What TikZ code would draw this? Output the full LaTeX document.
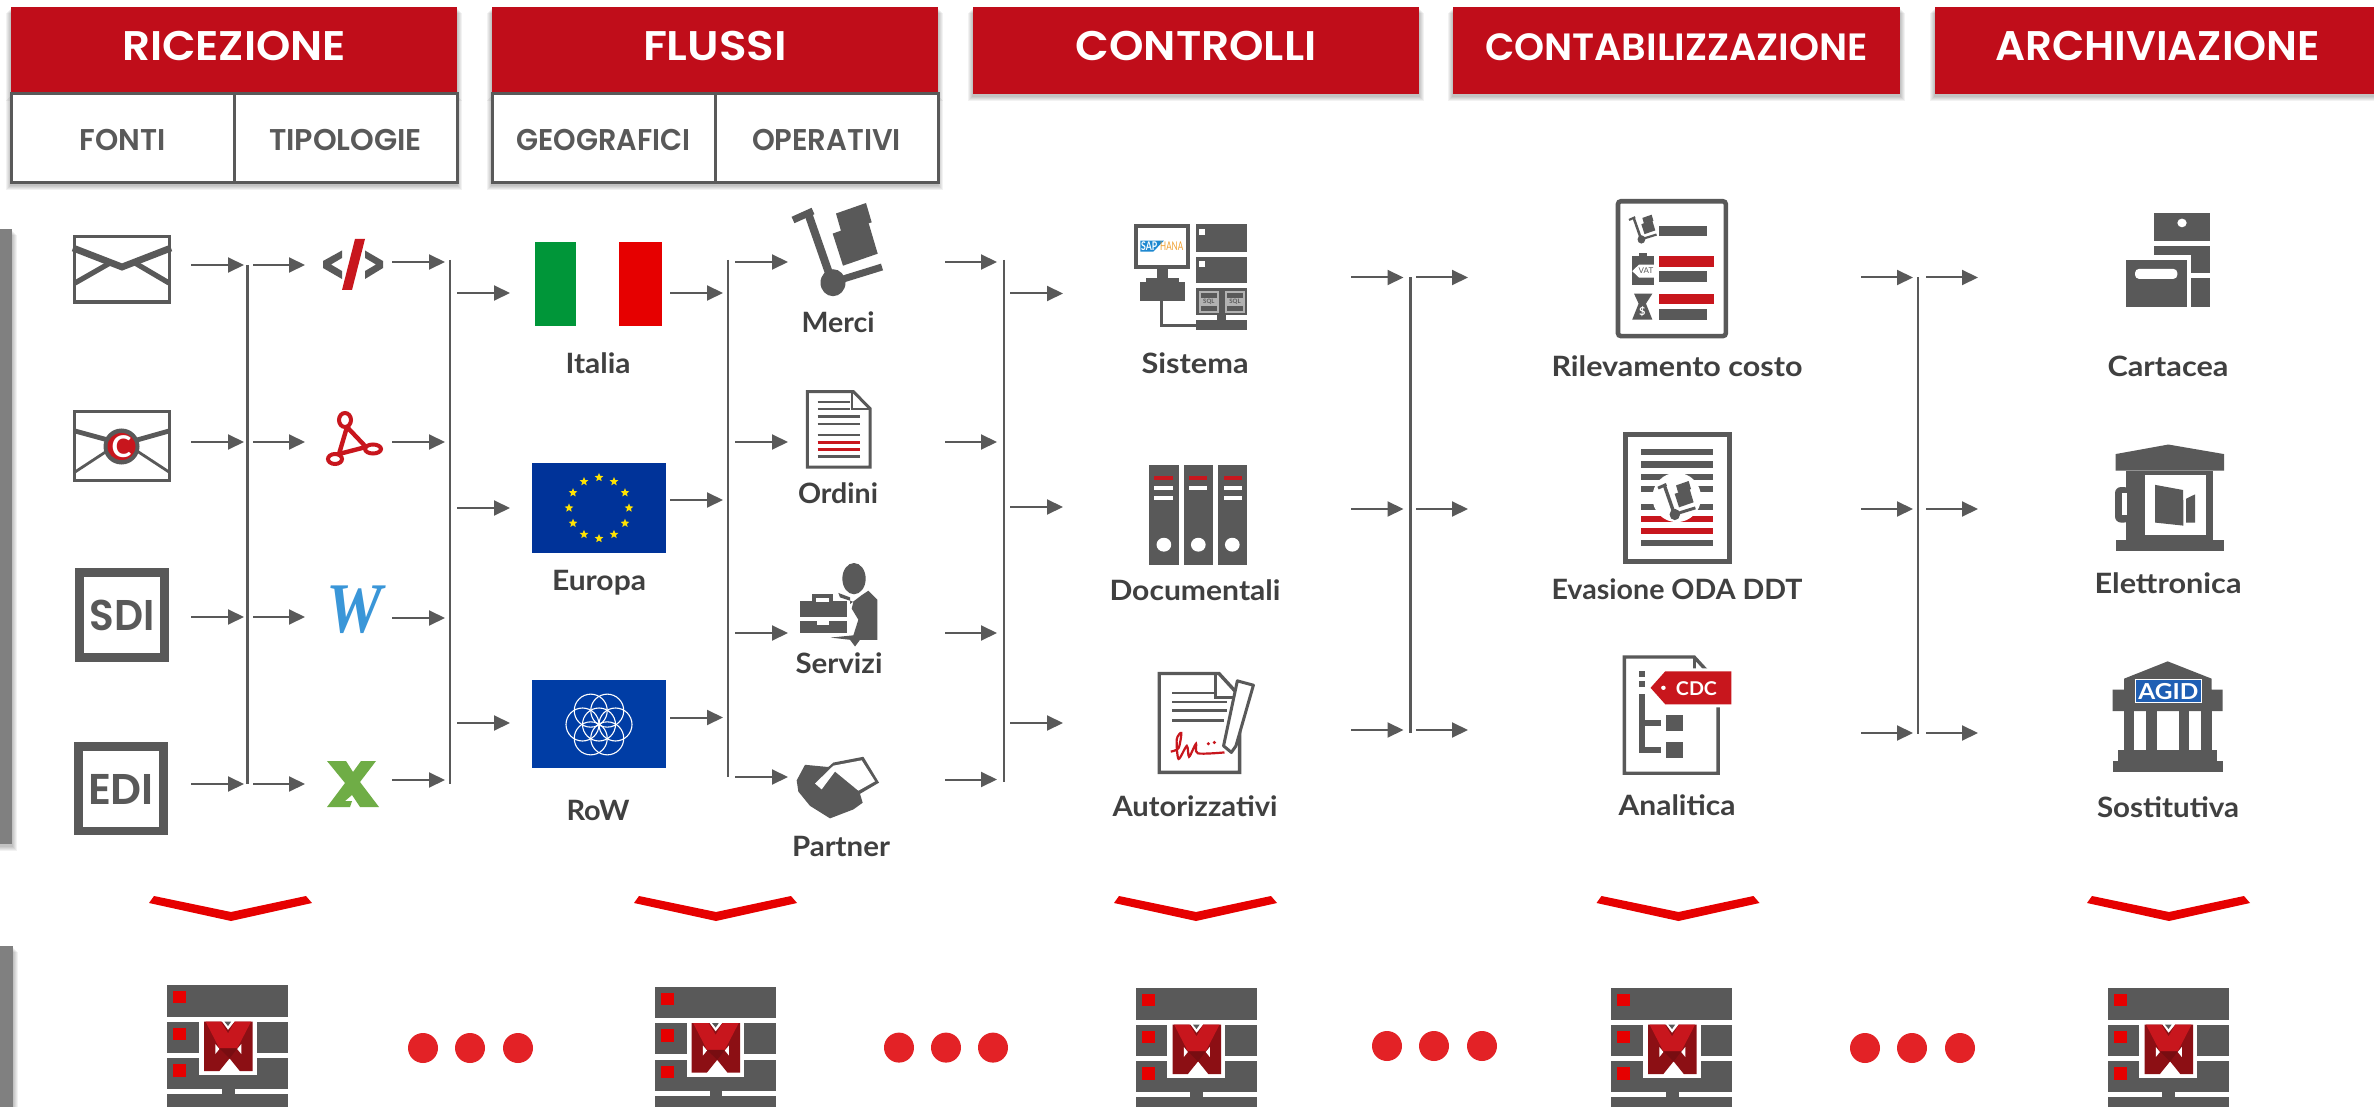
\documentclass[tikz,border=0pt]{standalone}
\usepackage{fontspec}
\usetikzlibrary{arrows.meta,shapes.geometric}
\setmainfont{Lato}
\newfontfamily\hdfont{Poppins SemiBold}
\newfontfamily\serfont{Liberation Serif}
\definecolor{ink}{HTML}{595959}
\definecolor{txt}{HTML}{404040}
\definecolor{hred}{HTML}{C00D1A}
\definecolor{brand}{HTML}{C8161D}
\definecolor{pure}{HTML}{E60000}
\definecolor{dotred}{HTML}{E32226}
\newsavebox\fitbox
\newcommand\fitw[2]{\sbox\fitbox{#2}\pgfmathsetmacro\fitratio{#1*0.5/(\wd\fitbox)}\scalebox{\fitratio}[1]{\usebox\fitbox}}
\newcommand\softshadow[4]{\foreach \s in {1,...,5}{\fill[black,opacity=.05] (#1-\s,#2+\s+1) rectangle (#3+\s,#4+\s+2);}}
\newcommand\stub[4]{\coordinate (#1a) at (#2,#4);\coordinate (#1b) at (#3,#4);\draw[flow] (#1a) -- (#1b);}
\newcommand\bus[4]{\coordinate (#1a) at (#2,#3);\coordinate (#1b) at (#2,#4);\draw[busline] (#1a) -- (#1b);}
\newcommand\cartpic[3]{\begin{scope}[shift={(#1*.5pt,-#2*.5pt)},x={#3*.5pt},y={-#3*.5pt}]
\draw[ink,line width=#3*3.5pt] (0,17)--(20,8);
\draw[ink,line width=#3*4pt] (15,10)--(37,73);
\draw[ink,line width=#3*3.5pt] (47,77)--(89,64);
\fill[ink] (43,10.5)--(73,0)--(78.7,19.4)--(48,28)--cycle;
\fill[ink] (39.7,30.6)--(75,18)--(84.7,50.7)--(50,62.7)--cycle;
\fill[ink] (40,79.7) ellipse [x radius=12.5,y radius=13.5];
\end{scope}}
\newcommand\serverpic[3]{\begin{scope}[shift={(#2*.5pt,-#3*.5pt)},zoomE]
\fill[ink] (328,345) rectangle (565,440);
\fill[ink] (328,455) rectangle (565,548);
\fill[ink] (328,565) rectangle (565,657);
\fill[ink] (328,673) rectangle (565,760);
\fill[ink] (435,657) rectangle (460,673);
\fill[pure] (340,363) rectangle (365,400);
\fill[pure] (340,473) rectangle (365,510);
\fill[pure] (340,583) rectangle (365,620);
\fill[white] (390,445) rectangle (503,615);
\fill[ink] (330,440) rectangle (390,440);
\fill[white] (328,440) rectangle (565,455);
\fill[ink] (440,455)--(453,455)--(447,468)--cycle;
\fill[black!0!brand!70!black] (400,455)--(435,455)--(447,480)--(460,455)--(495,455)--(495,603)--(470,603)--(450,565)--(430,603)--(400,603)--cycle;
\fill[brand] (403,455)--(433,455)--(447,490)--(460,455)--(492,455)--(465,535)--(430,535)--cycle;
\fill[brand!60!black] (430,535)--(465,535)--(450,565)--cycle;
\fill[white] (422,522)--(430,537)--(422,552)--cycle;
\fill[white] (473,522)--(465,537)--(473,552)--cycle;
\end{scope}}
\newcommand\chev[1]{\begin{scope}[shift={(#1*.5pt,0pt)}]
\fill[pure] (-76,896)--(1,912)--(76,896)--(82,903)--(1,921)--(-81,903)--cycle;
\end{scope}}
\tikzset{
 zoomA/.style={shift={(0pt,-100pt)},x=.16667pt,y=-.21044pt},
 zoomB/.style={shift={(250pt,-90pt)},x=.16667pt,y=-.2232pt},
 zoomC/.style={shift={(525pt,-90pt)},x=.22957pt,y=-.21683pt},
 zoomD/.style={shift={(975pt,-90pt)},x=.16667pt,y=-.21683pt},
 zoomE/.style={shift={(0pt,-435pt)},x=.2551pt,y=-.16667pt},
 flow/.style={draw=ink,line width=1pt,-{Triangle[length=8pt,width=7.5pt,fill=ink]}},
 busline/.style={draw=ink,line width=1.3pt},
 hdrbox/.style={fill=hred,text=white,inner sep=0pt,font=\hdfont\fontsize{20.7}{24}\selectfont,text height=10.5pt,text depth=0pt,minimum height=43.5pt},
 subbox/.style={draw=ink,line width=1.5pt,fill=white,text=ink,inner sep=0pt,font=\hdfont\fontsize{15}{18}\selectfont,text height=12.5pt,text depth=0pt,minimum height=44.5pt},
 lab/.style={anchor=base,text=txt,inner sep=0pt,font=\bfseries\fontsize{14}{16}\selectfont},
 iconword/.style={text=ink,inner sep=0pt,font=\hdfont\fontsize{21.5}{24}\selectfont},
 eustar/.style={star,star points=5,star point ratio=2.3,fill=yellow!85!orange,minimum size=4.6pt,inner sep=0pt},
 dotmark/.style={circle,fill=dotred,minimum size=15pt,inner sep=0pt},
}
\begin{document}
\begin{tikzpicture}[x=.5pt,y=-.5pt]
\useasboundingbox (0,0) rectangle (2374,1107);
\clip (0,0) rectangle (2374,1107);
\fill[white] (0,0) rectangle (2374,1107);
% side bars
\softshadow{0}{229.5}{12}{844}
\softshadow{0}{946}{13}{1110}
\fill[black!50] (0,229.5) rectangle (12,844);
\fill[black!50] (0,946) rectangle (13,1107);
% headers
\softshadow{11}{7}{457}{94}
\softshadow{492}{7}{938}{94}
\softshadow{973}{7}{1419}{94}
\softshadow{1453}{7}{1900}{94}
\softshadow{1935}{7}{2380}{94}
\softshadow{11}{94}{457}{183}
\softshadow{492}{94}{938}{183}
\node[hdrbox,minimum width=223pt] (hRic) at (234,50.5) {\fitw{224}{RICEZIONE}};
\node[hdrbox,minimum width=223pt] (hFlu) at (715,50.5) {\fitw{144}{FLUSSI}};
\node[hdrbox,minimum width=223pt] (hCon) at (1196,50.5) {\fitw{241}{CONTROLLI}};
\node[hdrbox,minimum width=223.5pt,font=\hdfont\fontsize{19}{22}\selectfont] (hCnt) at (1676.5,50.5) {\fitw{383}{CONTABILIZZAZIONE}};
\node[hdrbox,minimum width=222.5pt] (hArc) at (2157.5,50.5) {\fitw{325}{ARCHIVIAZIONE}};
\node[subbox,minimum width=111.5pt] (sFon) at (122.5,138.5) {\fitw{86}{FONTI}};
\node[subbox,minimum width=111.5pt] (sTip) at (345.5,138.5) {\fitw{153}{TIPOLOGIE}};
\node[subbox,minimum width=111.5pt] (sGeo) at (603.5,138.5) {\fitw{174}{GEOGRAFICI}};
\node[subbox,minimum width=111.5pt] (sOpe) at (826.5,138.5) {\fitw{149}{OPERATIVI}};
% connectors column 1
\stub{a1}{191}{244}{265}\stub{a2}{191}{244}{442}\stub{a3}{191}{244}{617}\stub{a4}{191}{244}{784}
\bus{b1}{247.7}{265}{784}
\stub{c1}{253}{305}{265}\stub{c2}{253}{305}{442}\stub{c3}{253}{305}{617}\stub{c4}{253}{305}{784}
\stub{d1}{392}{445}{262}\stub{d2}{392}{445}{442}\stub{d3}{392}{445}{618}\stub{d4}{392}{445}{780}
\bus{b2}{450}{260}{784}
\stub{e1}{457}{510}{293}\stub{e2}{457}{510}{508}\stub{e3}{457}{510}{723}
\stub{f1}{670}{723}{293}\stub{f2}{670}{723}{500}\stub{f3}{670}{723}{717.5}
\bus{b3}{728}{260}{777}
\stub{g1}{735}{788}{262}\stub{g2}{735}{788}{442}\stub{g3}{735}{788}{633}\stub{g4}{735}{788}{777}
\stub{h1}{945}{997}{262}\stub{h2}{945}{997}{442}\stub{h3}{945}{997}{633}\stub{h4}{945}{997}{779.5}
\bus{b4}{1004}{260}{782}
\stub{i1}{1010}{1063}{293.5}\stub{i2}{1010}{1063}{507}\stub{i3}{1010}{1063}{723}
\stub{j1}{1351}{1403.5}{277.5}\stub{j2}{1351}{1403.5}{509}\stub{j3}{1351}{1403.5}{730}
\bus{b5}{1410.4}{277.5}{733}
\stub{k1}{1416}{1468}{277.5}\stub{k2}{1416}{1468}{509}\stub{k3}{1416}{1468}{730}
\stub{l1}{1861}{1913}{277.5}\stub{l2}{1861}{1913}{509}\stub{l3}{1861}{1913}{733}
\bus{b6}{1918}{277.5}{734}
\stub{m1}{1926}{1978}{277.5}\stub{m2}{1926}{1978}{509}\stub{m3}{1926}{1978}{733}
% envelopes
\draw[ink,line width=1.8pt] (74.5,236.5) rectangle (169.5,302);
\draw[ink,line width=3.4pt,line join=miter] (73,248)--(122,267)--(171,248);
\draw[ink,line width=2.6pt] (75,283)--(110,263);
\draw[ink,line width=2.6pt] (169,283)--(135,263);
\draw[ink,line width=1.8pt] (74.5,411.5) rectangle (169.5,480.5);
\draw[ink,line width=2.4pt] (75,431)--(108,440);
\draw[ink,line width=2.4pt] (169,431)--(137,440);
\draw[ink,line width=1.4pt] (75,472)--(107,451);
\draw[ink,line width=1.4pt] (169,472)--(137,451);
\fill[ink] (121.5,446.5) ellipse [x radius=18,y radius=18];
\fill[brand] (121.5,446.5) ellipse [x radius=14,y radius=13.5];
\node[inner sep=0pt,text=white,font=\bfseries\fontsize{15}{16}\selectfont] (eC) at (121.5,446.5) {C};
% SDI, EDI
\draw[ink,line width=4.4pt] (79.5,572.5) rectangle (164.5,657.5);
\node[iconword] (nSDI) at (122,615) {\fitw{65}{SDI}};
\draw[ink,line width=4.4pt] (78.5,746.5) rectangle (163.5,831);
\node[iconword] (nEDI) at (121,789) {\fitw{66}{EDI}};
% file type icons
\fill[ink] (342,250.5)--(342,258)--(331,264.5)--(342,271)--(342,279)--(323,268)--(323,261)--cycle;
\fill[ink] (365,250.5)--(365,258)--(376,264.5)--(365,271)--(365,279)--(383,268)--(383,261)--cycle;
\fill[brand] (355,239)--(365,239)--(352,290)--(342,290)--cycle;
\draw[brand,line width=2pt] (345,420) ellipse [x radius=6,y radius=7];
\draw[brand,line width=2pt] (335,459) ellipse [x radius=7,y radius=5];
\draw[brand,line width=2pt] (373,449) ellipse [x radius=8,y radius=4.5];
\draw[brand,line width=2.2pt,line join=round] (347,427)--(366,447)--(339,454)--cycle;
\node[inner sep=0pt,text=black!0!blue!55!cyan!70!black,font=\serfont\bfseries\itshape\fontsize{35.6}{36}\selectfont] (nW) at (354,610) {\definecolor{wblue}{HTML}{3A96D8}\textcolor{wblue}{\fitw{56}{W}}};
\definecolor{xgreen}{HTML}{6FAD46}
\fill[xgreen] (327,761)--(346,761)--(353,772)--(361,761)--(376,761)--(360,782)--(379,807)--(360,807)--(352,795)--(345,801)--(352,801)--(350,807)--(327,807)--(345,783)--cycle;
% flags
\definecolor{fgreen}{HTML}{009639}
\definecolor{eublue}{HTML}{003399}
\definecolor{rowblue}{HTML}{003DA5}
\fill[fgreen] (535,242) rectangle (576,326);
\fill[pure] (619,242) rectangle (662,326);
\fill[eublue] (532,463) rectangle (666,553);
\foreach \i in {1,...,12}{\node[eustar] (st\i) at ({599+30*cos(\i*30)},{508+30.5*sin(\i*30)}) {};}
\fill[rowblue] (532,680) rectangle (666,768);
\draw[white,line width=.55pt] (599,724.5) circle [radius=16.5];
\foreach \a in {0,60,...,300}{\draw[white,line width=.55pt] ({599+16.5*cos(\a)},{724.5+16*sin(\a)}) circle [radius=16.5];}
% operative icons
\cartpic{793}{203}{1}
\begin{scope}[zoomB]
\draw[ink,line width=1.5pt,fill=white,line join=miter] (922,474)--(1060,474)--(1110,512)--(1110,643)--(922,643)--cycle;
\draw[ink,line width=1pt] (1056,476)--(1056,512)--(1108,512);
\foreach \yy/\xe in {497/1050,513/1050,530/1080,547/1080,571/1080,619/1080}{\draw[ink,line width=1.2pt] (953,\yy)--(\xe,\yy);}
\draw[brand,line width=1.4pt] (953,588)--(1080,588);
\draw[brand,line width=1.4pt] (953,603)--(1080,603);
\fill[ink] (1062,893) ellipse [x radius=35,y radius=35];
\fill[ink] (900,942) rectangle (1040,1015);
\fill[ink] (935,928) rectangle (1000,948);
\fill[white] (948,936) rectangle (988,946);
\fill[white] (900,980) rectangle (1040,987);
\fill[white] (952,987) rectangle (988,996);
\fill[ink] (1015,925)--(1050,935)--(1050,950)--(1085,930)--(1105,920)--(1132,940)--(1132,1030)--(1080,1030)--(1065,1045)--(1050,1030)--(992,1025)--(1060,1020)--(1075,985)--(1055,960)--(1060,945)--(1020,935)--cycle;
\fill[ink] (890,1345)--(915,1310)--(985,1315)--(1000,1305)--(1090,1292)--(1137,1350)--(1080,1375)--(1088,1395)--(1060,1410)--(990,1430)--(930,1402)--(895,1370)--cycle;
\fill[white] (1000,1312)--(1085,1300)--(1125,1347)--(1075,1368)--(1005,1325)--(965,1365)--(945,1352)--cycle;
\end{scope}
% controls icons
\definecolor{sapblue}{HTML}{1E88D0}
\definecolor{hana}{HTML}{F0A030}
\begin{scope}[zoomC]
\draw[ink,line width=2pt,fill=white] (187,106) rectangle (301,201);
\fill[sapblue] (197,140)--(248,140)--(225,165)--(197,165)--cycle;
\node[inner sep=0pt,text=white,font=\bfseries\fontsize{6}{7}\selectfont] (nSAP) at (216,153) {\fitw{16}{SAP}};
\node[inner sep=0pt,text=hana,font=\fontsize{6}{7}\selectfont] (nHANA) at (265,153) {\fitw{23}{HANA}};
\fill[ink] (233,205) rectangle (256,225);
\fill[ink] (210,225) rectangle (280,236);
\fill[ink] (195,236) rectangle (294,280);
\draw[ink,line width=1.4pt] (243,280)--(243,335)--(320,335);
\fill[ink] (317,102) rectangle (430,165);
\fill[white] (325,112) rectangle (338,126);
\fill[ink] (317,177) rectangle (430,238);
\fill[white] (325,187) rectangle (338,201);
\fill[ink] (317,250) rectangle (430,312);
\foreach \xs in {325,382}{\fill[black!30] (\xs,256) rectangle (\xs+42,306);\fill[ink] (\xs+4,260) rectangle (\xs+38,271);\fill[ink] (\xs+4,290) rectangle (\xs+38,301);}
\node[inner sep=0pt,text=ink,font=\bfseries\fontsize{3}{4}\selectfont] (nSQLa) at (346,281) {SQL};
\node[inner sep=0pt,text=ink,font=\bfseries\fontsize{3}{4}\selectfont] (nSQLb) at (403,281) {SQL};
\fill[ink] (364,312) rectangle (383,322);
\fill[ink] (317,322) rectangle (430,347);
% binders
\foreach \xa/\xb/\sa/\sb/\cx/\third in {215/281/227/268/248/1,292/355/303/343/323/0,366/430/378/418/397/1}{
 \fill[ink] (\xa,658) rectangle (\xb,887);
 \fill[brand] (\sa,683) rectangle (\sb,692);
 \fill[white] (\sa,705) rectangle (\sb,716);
 \ifnum\third=1 \fill[white] (\sa,728) rectangle (\sb,739);\fi
 \fill[white] (\cx,841) ellipse [x radius=16,y radius=16];
}
% authorisation
\draw[ink,line width=1.7pt,fill=white] (238,1138)--(368,1138)--(413,1190)--(413,1366)--(238,1366)--cycle;
\fill[ink] (358,1142) rectangle (364,1196);
\fill[ink] (358,1190) rectangle (402,1196);
\foreach \yy/\xe in {1183/358,1204/385,1224/385,1246/380}{\draw[ink,line width=1.3pt] (266,\yy)--(\xe,\yy);}
\draw[ink,line width=1.5pt,fill=white,line join=round] (408,1155)--(443,1165)--(405,1305)--(395,1320)--(378,1305)--cycle;
\draw[brand,line width=1.1pt] plot[smooth] coordinates {(263,1318)(280,1310)(286,1275)(276,1290)(280,1335)(298,1305)(303,1330)(318,1300)(322,1322)(380,1320)};
\fill[brand] (345,1300) circle [radius=4];
\fill[brand] (358,1297) circle [radius=4];
\end{scope}
% accounting icons
\begin{scope}[zoomC]
\draw[ink,line width=2.3pt,fill=white,rounded corners=1.5pt] (1237,49) rectangle (1472,360);
\fill[ink] (1327,105) rectangle (1430,130);
\fill[brand] (1327,175) rectangle (1447,201);
\fill[ink] (1327,210) rectangle (1430,235);
\fill[brand] (1327,262) rectangle (1447,287);
\fill[ink] (1327,297) rectangle (1430,322);
\fill[ink] (1268,175) rectangle (1315,242);
\fill[ink] (1283,168) rectangle (1300,180);
\fill[white] (1268,210)--(1283,195)--(1318,195)--(1318,225)--(1283,225)--cycle;
\node[inner sep=0pt,text=ink,font=\fontsize{4}{5}\selectfont] (nVAT) at (1298,210) {VAT};
\fill[ink] (1272,262)--(1312,262)--(1298,285)--(1312,322)--(1268,322)--(1282,285)--cycle;
\node[inner sep=0pt,text=white,font=\bfseries\fontsize{5.5}{6}\selectfont] (nBag) at (1290,303) {\$};
\draw[ink,line width=2.5pt,fill=white] (1253,586) rectangle (1479,880);
\foreach \yy in {628,656,684,712,753,837}{\fill[ink] (1287,\yy-7) rectangle (1445,\yy+7);}
\foreach \yy in {782,809}{\fill[brand] (1287,\yy-7) rectangle (1445,\yy+7);}
\fill[white] (1365,732) ellipse [x radius=53,y radius=57];
\draw[ink,line width=1.7pt,fill=white] (1251,1100)--(1403,1100)--(1455,1160)--(1455,1368)--(1251,1368)--cycle;
\fill[ink] (1282,1133) rectangle (1295,1145);
\fill[ink] (1282,1155) rectangle (1295,1170);
\fill[ink] (1282,1185) rectangle (1295,1320);
\fill[ink] (1282,1245) rectangle (1330,1258);
\fill[ink] (1282,1308) rectangle (1330,1321);
\fill[ink] (1342,1234) rectangle (1378,1270);
\fill[ink] (1342,1297) rectangle (1378,1333);
\draw[ink,line width=1.5pt] (1403,1100)--(1403,1150)--(1445,1150);
\fill[white] (1333,1126)--(1490,1126)--(1490,1216)--(1333,1216)--(1298,1171)--cycle;
\fill[brand] (1340,1133)--(1484,1133)--(1484,1209)--(1340,1209)--(1308,1171)--cycle;
\fill[white] (1336,1171) circle [radius=5];
\node[inner sep=0pt,text=white,font=\bfseries\fontsize{9.5}{10}\selectfont] (nCDC) at (1408,1172) {\fitw{41}{CDC}};
\end{scope}
\cartpic{1629}{214.7}{.31}
\cartpic{1658}{481}{.42}
% archive icons
\definecolor{agid}{HTML}{1F5FB4}
\begin{scope}[zoomD]
\fill[ink] (612,76) rectangle (780,141);
\fill[white] (696,99) ellipse [x radius=14,y radius=10];
\fill[ink] (612,152) rectangle (780,215);
\fill[ink] (724,226) rectangle (780,292);
\fill[white] (516,172) rectangle (724,300);
\fill[white] (710,215) rectangle (780,226);
\fill[ink] (612,152) rectangle (780,165);
\fill[ink] (724,165) rectangle (780,215);
\fill[ink] (527,184) rectangle (710,292);
\fill[white,rounded corners=2pt] (555,205) rectangle (682,228);
\fill[ink] (497,632)--(655,610)--(822,632)--(822,670)--(497,670)--cycle;
\fill[ink] (528,670) rectangle (790,830);
\fill[ink,rounded corners=3pt] (495,708) rectangle (540,790);
\fill[white] (515,722) rectangle (530,772);
\fill[white] (586,680) rectangle (767,818);
\fill[ink] (497,830) rectangle (822,855);
\fill[ink] (615,703)--(700,715)--(700,797)--(615,790)--cycle;
\fill[ink] (708,735)--(735,725)--(735,790)--(708,790)--cycle;
\fill[white] (700,712)--(712,732)--(700,738)--cycle;
\fill[ink] (522,1150)--(653,1110)--(785,1150)--(785,1175)--(818,1175)--(818,1225)--(488,1225)--(488,1175)--(522,1175)--cycle;
\draw[white,line width=.5pt,fill=agid] (556,1152) rectangle (755,1205);
\node[inner sep=0pt,text=white,font=\bfseries\fontsize{11}{12}\selectfont] (nAGID) at (655,1179) {\fitw{60}{AGID}};
\fill[ink] (522,1225) rectangle (552,1315);
\fill[ink] (587,1225) rectangle (620,1315);
\fill[ink] (686,1225) rectangle (718,1315);
\fill[ink] (753,1225) rectangle (785,1315);
\fill[ink] (505,1315) rectangle (802,1340);
\fill[ink] (488,1340) rectangle (818,1365);
\end{scope}
% labels
\node[lab] (lIta) at (598,373) {\fitw{65}{Italia}};
\node[lab] (lEur) at (599,590.7) {\fitw{94}{Europa}};
\node[lab] (lRow) at (598,820.6) {\fitw{63}{RoW}};
\node[lab] (lMer) at (838,333) {\fitw{73}{Merci}};
\node[lab] (lOrd) at (838,503.7) {\fitw{80}{Ordini}};
\node[lab] (lSer) at (839,673.7) {\fitw{87}{Servizi}};
\node[lab] (lPar) at (841,856) {\fitw{98}{Partner}};
\node[lab] (lSis) at (1195,373) {\fitw{107}{Sistema}};
\node[lab] (lDoc) at (1195,600) {\fitw{171}{Documentali}};
\node[lab] (lAut) at (1195,816) {\fitw{165}{Autorizzativi}};
\node[lab] (lRil) at (1677,377) {\fitw{251}{Rilevamento costo}};
\node[lab] (lEva) at (1677,599.3) {\fitw{251}{Evasione ODA DDT}};
\node[lab] (lAna) at (1677,815) {\fitw{117}{Analitica}};
\node[lab] (lCar) at (2168,377) {\fitw{121}{Cartacea}};
\node[lab] (lEle) at (2168,593) {\fitw{147}{Elettronica}};
\node[lab] (lSos) at (2168,817) {\fitw{142}{Sostitutiva}};
% chevrons
\chev{230}\chev{715}\chev{1195}\chev{1677.5}\chev{2168}
% dots
\foreach \xx/\yy [count=\n] in {423/1048,470/1048,518/1048,899/1047.6,946/1047.6,993/1047.6,1387/1046,1434/1046,1482/1046,1865/1048,1912/1048,1960/1048}{\node[dotmark] (dt\n) at (\xx,\yy) {};}
% servers
\serverpic{s1}{0}{0}
\serverpic{s2}{487.6}{1.5}
\serverpic{s3}{968.5}{3}
\serverpic{s4}{1444}{3}
\serverpic{s5}{1940.5}{3}
\end{tikzpicture}
\end{document}
